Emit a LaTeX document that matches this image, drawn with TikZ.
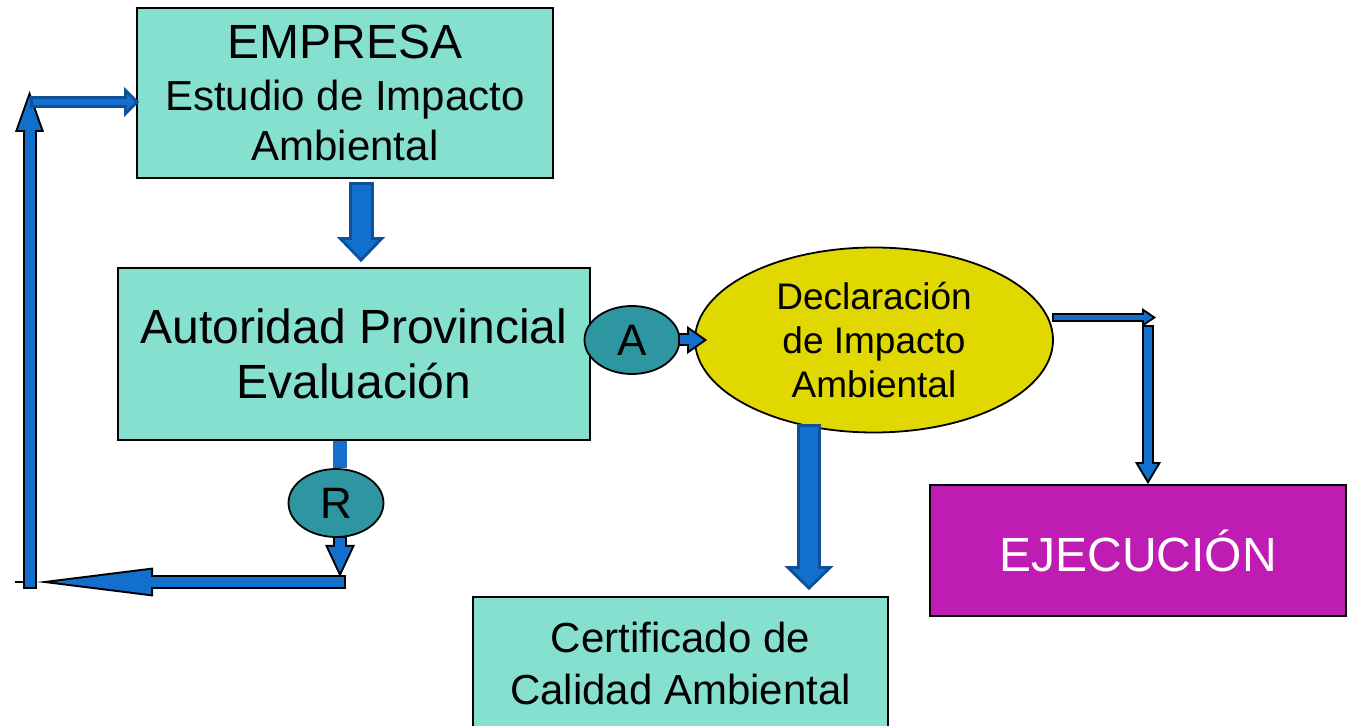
\documentclass[tikz,border=0pt]{standalone}
\usepackage{fontspec}
\setmainfont{Liberation Sans}
\usepackage{xcolor}
\usetikzlibrary{arrows.meta,calc,shapes.geometric,positioning}
\definecolor{boxteal}{RGB}{134,224,208}
\definecolor{ovteal}{RGB}{46,150,160}
\definecolor{decyel}{RGB}{224,216,0}
\definecolor{ejmag}{RGB}{190,28,178}
\definecolor{arrblue}{RGB}{18,112,204}
\definecolor{arrdark}{RGB}{14,80,155}
\tikzset{
	blk/.style n args={4}{
			draw=arrblue, line width=#1, shorten >=#4,
			-{Triangle[width=#2, length=#3, line width=0pt]},
			preaction={draw=black, line width=#1+2pt, shorten >=0pt, shorten <=-1pt,
					-{Triangle[width=#2*(#3+#4+1pt)/(#3), length=#3+#4+1pt, line width=0pt]}}
		},
	dblk/.style n args={4}{
			draw=arrblue, line width=#1, shorten >=#4,
			-{Triangle[width=#2, length=#3, line width=0pt]},
			preaction={draw=arrdark, line width=#1+3pt, shorten >=0pt, shorten <=-1.5pt,
					-{Triangle[width=#2*(#3+#4+1.5pt)/(#3), length=#3+#4+1.5pt, line width=0pt]}}
		}
}

\begin{document}
\begin{tikzpicture}[x=0.5pt, y=-0.5pt, line width=0.9pt,
box/.style = {draw, rectangle, fill=boxteal, align=center, inner sep=0pt},
oval/.style = {draw, ellipse, fill=ovteal, inner sep=0pt, minimum width=47.5pt, minimum height=34pt, font=\fontsize{22}{24}\selectfont},
bar/.style = {draw=arrblue, line width=7pt}]

    \fill[white] (0,0) rectangle (1349,726);
    \useasboundingbox (0,0) rectangle (1349,726);
    \clip (0,0) rectangle (1349,726);

    \node[box, minimum width=208pt, minimum height=85pt, font=\fontsize{21}{25}\selectfont] (1) at (345,93) {{\fontsize{24}{26}\selectfont EMPRESA}\\[1pt]Estudio de Impacto\\Ambiental};
    \node[box, minimum width=236pt, minimum height=86pt, font=\fontsize{24}{27.5}\selectfont] (2) at (354,354) {Autoridad Provincial\\Evaluación};
    \node[oval] (3) at (632,340) {A};
    \node[oval] (4) at (336,503) {R};
    \node[draw, ellipse, fill=decyel, inner sep=0pt, minimum width=179pt, minimum height=92.5pt, align=center, font=\fontsize{18.5}{21.8}\selectfont] (5) at (874,340) {Declaración\\de Impacto\\Ambiental};
    \node[box, fill=ejmag, text=white, minimum width=208pt, minimum height=65.5pt, font=\fontsize{24}{27}\selectfont] (6) at (1138,550.5) {EJECUCIÓN};
    \node[box, minimum width=207.5pt, minimum height=66pt, font=\fontsize{21}{26}\selectfont] (7) at (680.5,663) {Certificado de\\Calidad Ambiental};

    \coordinate (k0) at (361,185);
    \coordinate (k1) at (340,577);
    \coordinate (k2) at (344,582);
    \coordinate (k3) at (37,582);
    \coordinate (k4) at (29.5,587);
    \coordinate (k5) at (29.5,91);
    \coordinate (k6) at (33,102);
    \coordinate (k7) at (1156,317.5);
    \coordinate (k8) at (1148,327);
    \coordinate (k9) at (809,427);

    \draw [dblk={9.5pt}{17pt}{8.8pt}{2.2pt}] (k0) -- ($(k0 |- 2.north)+(0,-5)$);
    \draw [bar] (2.south -| k1) -- (4.north -| k1);
    \draw [line width=0.8pt] (k3) -- ++(-22,0);
    \draw [blk={5pt}{12.2pt}{48.9pt}{8.1pt}] (k2) -- (k3);
    \draw [blk={5pt}{11.8pt}{12.6pt}{2.4pt}] (4.south -| k1) -- (k1);
    \draw [blk={5pt}{11.7pt}{16.5pt}{3pt}] (k4) -- (k5);
    \draw [dblk={3pt}{7.8pt}{3.9pt}{2.1pt}] (k6) -- ($(1.west |- k6)+(3,0)$);
    \draw [blk={4.5pt}{10.2pt}{7.3pt}{1.7pt}] (3.east) -- ([xshift=6.5pt]5.west);
    \draw [blk={2.5pt}{5.7pt}{4.2pt}{1.8pt}] (5.east |- k7) -- (k7);
    \draw [blk={4pt}{9.5pt}{8pt}{2pt}] (k8) -- (6.north -| k8);
    \draw [dblk={9pt}{17.2pt}{8.4pt}{2.1pt}] (k9) -- ($(k9 |- 7.north)+(0,-6)$);

\end{tikzpicture}
\end{document}
